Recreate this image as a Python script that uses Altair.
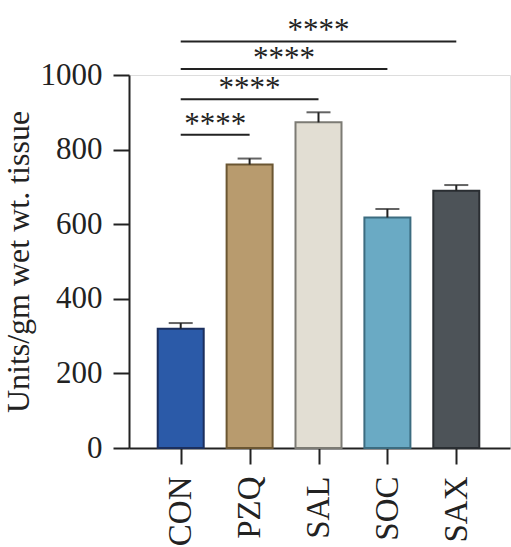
import altair as alt
import pandas as pd

groups = ["CON", "PZQ", "SAL", "SOC", "SAX"]
means = [320, 760, 873, 618, 690]
sems = [15, 16, 27, 23, 15]
fills = ["#2B5AA8", "#B89B6E", "#E2DED3", "#6AAAC4", "#4D5358"]
strokes = ["#1B2F5E", "#6B5632", "#7C7B74", "#3C6C80", "#2A2E32"]

comp_from = ["CON", "CON", "CON", "CON"]
comp_to = ["PZQ", "SAL", "SOC", "SAX"]
comp_level = [840, 935, 1016, 1090]
comp_label = ["****", "****", "****", "****"]

idx = {g: i for i, g in enumerate(groups)}
bars = pd.DataFrame({
    "i": list(range(len(groups))),
    "group": groups,
    "mean": means,
    "top": [m + s for m, s in zip(means, sems)],
})
comps = pd.DataFrame({
    "a": [idx[g] for g in comp_from],
    "b": [idx[g] for g in comp_to],
    "mid": [(idx[a] + idx[b]) / 2 for a, b in zip(comp_from, comp_to)],
    "y": comp_level,
    "label": comp_label,
})

FONT = "Liberation Serif"
INK = "#222222"

label_expr = " : ".join(
    [f"datum.value == {i} ? '{g}'" for i, g in enumerate(groups)]) + " : ''"

xscale = alt.Scale(domain=[-0.678, 4.707], nice=False, zero=False)
yscale = alt.Scale(domain=[0, 1000], nice=False)

x_axis = alt.Axis(values=list(range(len(groups))), labelExpr=label_expr,
                  labelAngle=-90, labelFont=FONT, labelFontSize=33,
                  labelColor=INK, labelPadding=12, tickSize=16, tickWidth=2,
                  tickColor=INK, domainColor=INK, domainWidth=2, grid=False,
                  title=None, labelAlign="right", labelBaseline="middle")
y_axis = alt.Axis(values=[0, 200, 400, 600, 800, 1000], format="d",
                  labelFont=FONT,
                  labelFontSize=31, labelColor=INK, labelPadding=11,
                  tickSize=16, tickWidth=2, tickColor=INK, domainColor=INK,
                  domainWidth=2, grid=False, title="Units/gm wet wt. tissue",
                  titleFont=FONT, titleFontSize=32, titleFontWeight="normal",
                  titleColor=INK, titlePadding=5)

bar = alt.Chart(bars).mark_bar(size=46, strokeWidth=2).encode(
    x=alt.X("i:Q", scale=xscale, axis=x_axis),
    y=alt.Y("mean:Q", scale=yscale, axis=y_axis),
    fill=alt.Color("group:N", scale=alt.Scale(domain=groups, range=fills), legend=None),
    stroke=alt.Stroke("group:N", scale=alt.Scale(domain=groups, range=strokes), legend=None),
)

err = alt.Chart(bars).mark_rule(color=INK, strokeWidth=2).encode(
    x="i:Q", y="mean:Q", y2="top:Q")
cap = alt.Chart(bars).mark_tick(orient="horizontal", size=24, thickness=2,
                                color=INK).encode(x="i:Q", y="top:Q")

lines = alt.Chart(comps).mark_rule(color=INK, strokeWidth=2).encode(
    x="a:Q", x2="b:Q", y="y:Q")
texts = alt.Chart(comps).mark_text(font=FONT, fontSize=31, color=INK,
                                   baseline="alphabetic", dy=-1).encode(
    x="mid:Q", y="y:Q", text="label:N")

chart = alt.layer(bar, err, cap, lines, texts).properties(
    width=381, height=373,
    autosize=alt.AutoSizeParams(type="none"),
    padding={"left": 129, "top": 75, "right": 1, "bottom": 99},
).configure_view(stroke=None).configure(background="white")

chart.save("out.html", embed_options={"renderer": "svg", "actions": False})
